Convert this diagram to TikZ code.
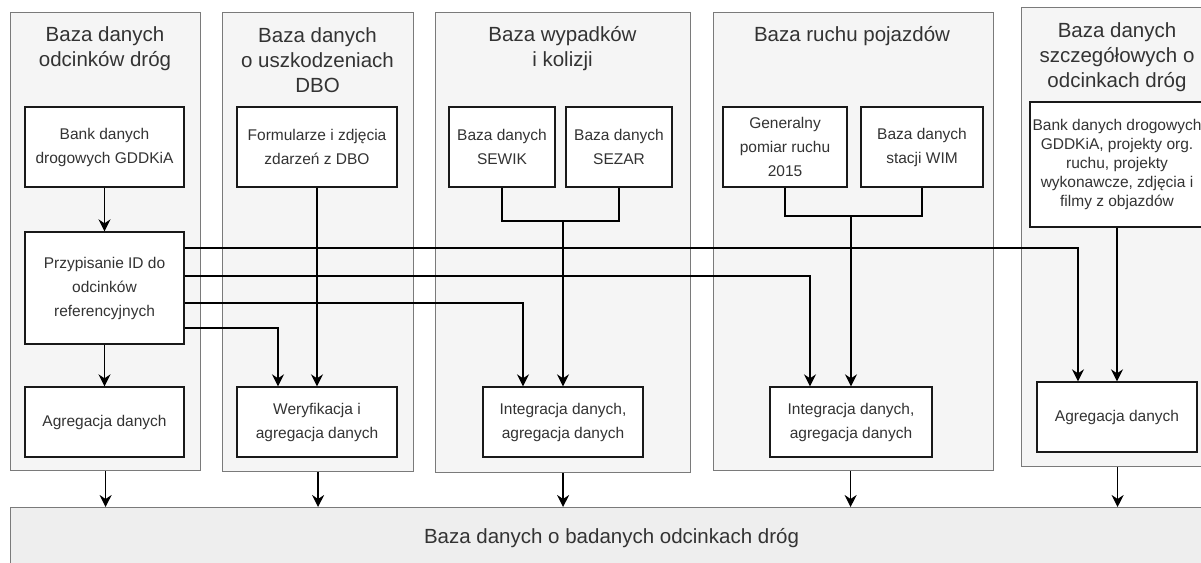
\documentclass[tikz,border=0pt]{standalone}
\usepackage{fontspec}
\setmainfont{Liberation Sans}
\usetikzlibrary{arrows.meta,calc}
\definecolor{panelfill}{HTML}{F5F5F5}
\definecolor{panelline}{HTML}{7A7A7A}
\definecolor{basefill}{HTML}{EEEEEE}
\definecolor{txt}{HTML}{333333}
\tikzset{
  panel/.style={draw=panelline, fill=panelfill, line width=1.2pt, inner sep=0pt, minimum width=#1},
  titletxt/.style={text=txt, font=\fontsize{20.5}{25}\selectfont, align=center, inner sep=0pt},
  inbox/.style={draw=black!90, fill=white, line width=1.4pt, inner sep=0pt, text=txt,
     font=\fontsize{15.5}{24}\selectfont, align=center},
  conn/.style={line width=1.4pt, draw=black},
  arr/.style={conn, -{Stealth[length=12pt, width=12pt, inset=4pt]}},
}
\begin{document}
\begin{tikzpicture}[x=1pt,y=-1pt]
\useasboundingbox (0,0) rectangle (1201,562);
% bottom base
\node[draw=panelline, fill=basefill, line width=1.2pt, inner sep=0pt, minimum width=1203pt, minimum height=83pt, anchor=north west] (base) at (10,507) {};
\node[text=txt, font=\fontsize{20.5}{25}\selectfont, inner sep=0pt] (basetxt) at (611.5,538) {Baza danych o badanych odcinkach dróg};
% panels
\node[panel=190pt, minimum height=458pt, anchor=north west] (p1) at (10,12) {};
\node[panel=191pt, minimum height=459pt, anchor=north west] (p2) at (222,12) {};
\node[panel=255pt, minimum height=460pt, anchor=north west] (p3) at (435,12) {};
\node[panel=280pt, minimum height=458pt, anchor=north west] (p4) at (713,12) {};
\node[panel=192pt, minimum height=459pt, anchor=north west] (p5) at (1021,7) {};
% titles
\node[titletxt] (t1) at (105,48.5) {Baza danych\\odcinków dróg};
\node[titletxt] (t2) at (317.5,60) {Baza danych\\o uszkodzeniach\\DBO};
\node[titletxt] (t3) at (562.5,48.5) {Baza wypadków\\i kolizji};
\node[titletxt] (t4) at (852,36) {Baza ruchu pojazdów};
\node[titletxt] (t5) at (1117,57) {Baza danych\\szczegółowych o\\odcinkach dróg};
% inner boxes
\node[inbox, minimum width=159pt, minimum height=80pt] (bank1) at (104.5,147) {Bank danych\\drogowych GDDKiA};
\node[inbox, minimum width=159pt, minimum height=112pt] (przyp) at (104.5,288) {Przypisanie ID do\\odcinków\\referencyjnych};
\node[inbox, minimum width=159pt, minimum height=70pt] (agr1) at (104.5,422) {Agregacja danych};
\node[inbox, minimum width=160pt, minimum height=80pt] (form) at (317,147) {Formularze i zdjęcia\\zdarzeń z DBO};
\node[inbox, minimum width=160pt, minimum height=70pt] (wer) at (317,422) {Weryfikacja i\\agregacja danych};
\node[inbox, minimum width=106pt, minimum height=80pt] (sewik) at (502,147) {Baza danych\\SEWIK};
\node[inbox, minimum width=106pt, minimum height=80pt] (sezar) at (619,147) {Baza danych\\SEZAR};
\node[inbox, minimum width=160pt, minimum height=70pt] (int3) at (563,422) {Integracja danych,\\agregacja danych};
\node[inbox, minimum width=124pt, minimum height=80pt] (gen) at (785,147) {Generalny\\pomiar ruchu\\2015};
\node[inbox, minimum width=122pt, minimum height=80pt] (wim) at (922,147) {Baza danych\\stacji WIM};
\node[inbox, minimum width=162pt, minimum height=70pt] (int4) at (851,422) {Integracja danych,\\agregacja danych};
\node[inbox, minimum width=174pt, minimum height=125pt, font=\fontsize{15.5}{19}\selectfont] (bank5) at (1117,164.5) {Bank danych drogowych\\GDDKiA, projekty org.\\ruchu, projekty\\wykonawcze, zdjęcia i\\filmy z objazdów};
\node[inbox, minimum width=160pt, minimum height=70pt] (agr5) at (1117,417) {Agregacja danych};
% join coordinates
\coordinate (j3) at (563,221);
\coordinate (j4) at (851,216);
% connectors panel 1
\draw[arr] (bank1) -- (przyp);
\draw[arr] (przyp) -- (agr1);
\draw[arr] ([yshift=40pt]przyp.east) -| ([xshift=-39pt]agr5.north);
\draw[arr] ([yshift=12pt]przyp.east) -| ([xshift=-41pt]int4.north);
\draw[arr] ([yshift=-15pt]przyp.east) -| ([xshift=-40pt]int3.north);
\draw[arr] ([yshift=-40pt]przyp.east) -| ([xshift=-39pt]wer.north);
% panel 2
\draw[arr] (form) -- (wer);
% panel 3
\draw[conn] (sewik.south) |- (j3) -| (sezar.south);
\draw[arr] (j3) -- (int3.north);
% panel 4
\draw[conn] (gen.south) |- (j4) -| (wim.south);
\draw[arr] (j4) -- (int4.north);
% panel 5
\draw[arr] (bank5) -- (agr5);
% to base
\draw[arr] (p1.south) -- (p1.south |- base.north);
\draw[arr] (p2.south) -- (p2.south |- base.north);
\draw[arr] (p3.south) -- (p3.south |- base.north);
\draw[arr] ([xshift=-3pt]p4.south) -- ([xshift=-3pt]p4.south |- base.north);
\draw[arr] (p5.south) -- (p5.south |- base.north);
\end{tikzpicture}
\end{document}
